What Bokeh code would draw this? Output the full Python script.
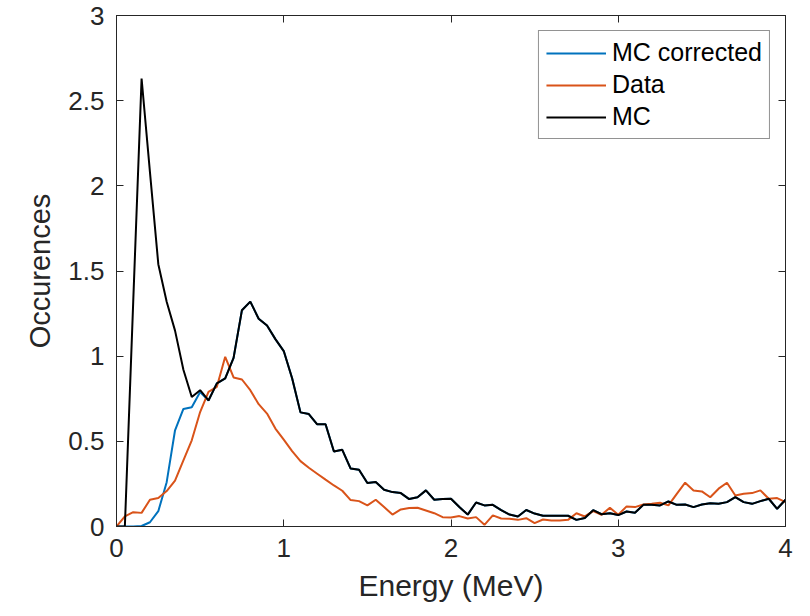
from bokeh.plotting import figure
from bokeh.models import LinearAxis, Range1d, Legend, LegendItem, FixedTicker, ColumnDataSource
from bokeh.embed import file_html
from bokeh.resources import INLINE

# Energy bins (MeV)
energy = [round(i * 0.05, 2) for i in range(81)]

mc = [0.0, 0.0, 1.32, 2.63, 2.08, 1.54, 1.32, 1.15, 0.92, 0.76,
      0.80, 0.74, 0.84, 0.87, 0.99, 1.27, 1.32, 1.22, 1.18, 1.10,
      1.03, 0.87, 0.67, 0.66, 0.60, 0.60, 0.44, 0.45, 0.34, 0.333,
      0.255, 0.261, 0.216, 0.202, 0.196, 0.161, 0.172, 0.212, 0.157, 0.161,
      0.163, 0.114, 0.07, 0.141, 0.124, 0.127, 0.096, 0.07, 0.059, 0.097,
      0.076, 0.063, 0.063, 0.063, 0.063, 0.039, 0.05, 0.096, 0.072, 0.078,
      0.067, 0.088, 0.081, 0.127, 0.128, 0.124, 0.147, 0.127, 0.129, 0.114,
      0.129, 0.137, 0.133, 0.143, 0.172, 0.143, 0.133, 0.149, 0.163, 0.104,
      0.157]

mc_corrected = [0.0, 0.0, 0.0, 0.003, 0.025, 0.09, 0.26, 0.565, 0.69, 0.70,
                0.79] + mc[11:]

data = [0.0, 0.059, 0.084, 0.08, 0.157, 0.167, 0.208, 0.27, 0.388, 0.506,
        0.672, 0.79, 0.82, 0.996, 0.875, 0.863, 0.80, 0.718, 0.663, 0.575,
        0.51, 0.443, 0.384, 0.345, 0.31, 0.275, 0.241, 0.21, 0.155, 0.149,
        0.124, 0.157, 0.114, 0.07, 0.10, 0.108, 0.11, 0.094, 0.078, 0.055,
        0.053, 0.061, 0.047, 0.055, 0.01, 0.065, 0.047, 0.045, 0.039, 0.049,
        0.02, 0.041, 0.035, 0.035, 0.039, 0.078, 0.059, 0.09, 0.069, 0.11,
        0.069, 0.118, 0.114, 0.129, 0.133, 0.139, 0.124, 0.192, 0.257, 0.212,
        0.206, 0.172, 0.222, 0.257, 0.182, 0.192, 0.196, 0.212, 0.163, 0.167,
        0.143]

x_ticks = [0, 1, 2, 3, 4]
y_ticks = [0, 0.5, 1, 1.5, 2, 2.5, 3]
y_tick_labels = ["0", "0.5", "1", "1.5", "2", "2.5", "3"]

series_names = ["MC corrected", "Data", "MC"]
series_colors = ["#0072BD", "#D95319", "#000000"]

FONT = "Liberation Sans"
TXT = "#262626"

p = figure(width=810, height=616, x_range=Range1d(0, 4), y_range=Range1d(0, 3),
           output_backend="svg", toolbar_location=None,
           min_border_left=116, min_border_right=25, min_border_top=15, min_border_bottom=90)

p.xgrid.visible = False
p.ygrid.visible = False
p.outline_line_color = TXT
p.outline_line_width = 1
p.background_fill_color = "white"
p.border_fill_color = "white"

src = ColumnDataSource(dict(x=energy, mcc=mc_corrected, data=data, mc=mc))
renderers = []
for col, name, color in zip(["mcc", "data", "mc"], series_names, series_colors):
    r = p.line("x", col, source=src, line_color=color, line_width=2)
    renderers.append(r)

def style_axis(ax, labels=True):
    ax.axis_line_color = TXT
    ax.major_tick_line_color = TXT
    ax.major_tick_in = 7
    ax.major_tick_out = 0
    ax.minor_tick_line_color = None
    ax.major_label_text_font = FONT
    ax.major_label_text_color = TXT
    ax.axis_label_text_font = FONT
    ax.axis_label_text_color = TXT
    ax.axis_label_text_font_style = "normal"
    if not labels:
        ax.major_label_text_font_size = "1px"
        ax.major_label_text_color = None
        ax.major_label_standoff = 0

xa = p.xaxis[0]
xa.ticker = FixedTicker(ticks=x_ticks)
xa.axis_label = "Energy (MeV)"
style_axis(xa)
xa.major_label_text_font_size = "26px"
xa.axis_label_text_font_size = "30px"
xa.major_label_standoff = 12
xa.axis_label_standoff = 9

ya = p.yaxis[0]
ya.ticker = FixedTicker(ticks=y_ticks)
ya.major_label_overrides = {t: l for t, l in zip(y_ticks, y_tick_labels)}
ya.axis_label = "Occurences"
style_axis(ya)
ya.major_label_text_font_size = "26px"
ya.axis_label_text_font_size = "29px"
ya.major_label_standoff = 12
ya.axis_label_standoff = 9

top = LinearAxis(ticker=FixedTicker(ticks=x_ticks))
style_axis(top, labels=False)
p.add_layout(top, "above")
right = LinearAxis(ticker=FixedTicker(ticks=y_ticks))
style_axis(right, labels=False)
p.add_layout(right, "right")

legend = Legend(items=[LegendItem(label=n, renderers=[r]) for n, r in zip(series_names, renderers)],
                location="top_right")
legend.label_text_font = FONT
legend.label_text_font_size = "25px"
legend.label_text_color = "#000000"
legend.glyph_width = 60
legend.label_standoff = 6
legend.padding = 7
legend.spacing = 3
legend.margin = 15
legend.border_line_color = TXT
legend.border_line_width = 1
legend.background_fill_color = "white"
legend.background_fill_alpha = 1
p.add_layout(legend)

open("out.html", "w").write(file_html(p, INLINE))
